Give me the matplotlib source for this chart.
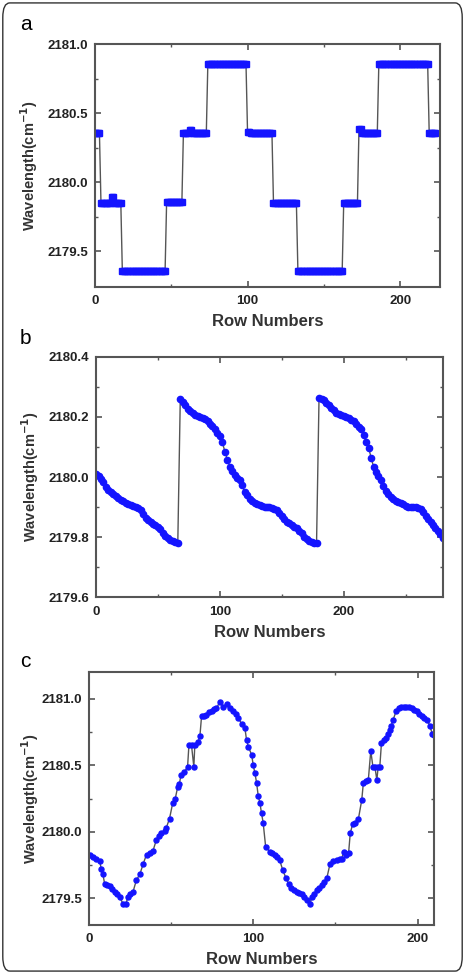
import numpy as np
import matplotlib.pyplot as plt
from matplotlib.patches import FancyBboxPatch

plt.rcParams['font.family'] = ['Liberation Sans', 'DejaVu Sans']

# panel a: step levels (cm-1) and how many rows each level lasts
a_levels = [2180.355, 2179.85, 2179.895, 2179.85, 2179.355, 2179.855, 2180.355,
            2180.375, 2180.355, 2180.855, 2180.365, 2180.355, 2179.85, 2179.355,
            2179.85, 2180.385, 2180.355, 2180.855, 2180.355]
a_rows = [4, 7, 2, 5, 29, 11, 4, 2, 10, 26, 2, 15, 16, 30, 10, 2, 11, 33, 5]

# panel b: every second row
b_rows = list(range(0, 281, 2))
b_vals = [2180.010, 2180.005, 2179.995, 2179.982, 2179.968, 2179.958, 2179.950, 2179.943,
          2179.936, 2179.929, 2179.924, 2179.919, 2179.914, 2179.910, 2179.907, 2179.905,
          2179.902, 2179.898, 2179.889, 2179.877, 2179.865, 2179.857, 2179.850, 2179.845,
          2179.839, 2179.834, 2179.826, 2179.815, 2179.805, 2179.796, 2179.790, 2179.786,
          2179.783, 2179.780,
          2180.258, 2180.250, 2180.238, 2180.228, 2180.220, 2180.212, 2180.206, 2180.202,
          2180.200, 2180.197, 2180.192, 2180.186, 2180.178, 2180.169, 2180.160, 2180.148,
          2180.138, 2180.115, 2180.085, 2180.058, 2180.035, 2180.020, 2180.008, 2179.998,
          2179.990, 2179.972, 2179.950, 2179.940, 2179.928, 2179.921, 2179.915, 2179.910,
          2179.906, 2179.903, 2179.901, 2179.900, 2179.899, 2179.897, 2179.895, 2179.890,
          2179.882, 2179.870, 2179.860, 2179.852, 2179.846, 2179.840, 2179.835, 2179.829,
          2179.822, 2179.813, 2179.802, 2179.794, 2179.788, 2179.784, 2179.781, 2179.780,
          2180.262, 2180.260, 2180.255, 2180.247, 2180.238, 2180.230, 2180.222, 2180.214,
          2180.209, 2180.205, 2180.202, 2180.200, 2180.196, 2180.191, 2180.185, 2180.177,
          2180.168, 2180.160, 2180.140, 2180.118, 2180.098, 2180.065, 2180.035, 2180.018,
          2180.005, 2179.990, 2179.970, 2179.955, 2179.943, 2179.934, 2179.927, 2179.921,
          2179.917, 2179.913, 2179.909, 2179.905, 2179.902, 2179.900, 2179.900, 2179.899,
          2179.898, 2179.893, 2179.884, 2179.872, 2179.860, 2179.850, 2179.840, 2179.830,
          2179.822, 2179.810, 2179.798]

# panel c
c_rows = [0.8, 2.5, 4.5, 6.5, 7.5, 8.5, 9.5, 11, 12.6, 14, 15.6, 17, 18.7, 20.7, 22.4,
          23.8, 25, 26.8, 28.9, 30.9, 33, 35, 37, 39, 41, 42.5, 44, 46, 47, 49, 51, 52.5,
          54, 55, 56, 58, 60, 60.8, 62.4, 63.8, 64.4, 66.5, 67.5, 68.5, 70, 71.5, 73, 74.6,
          76, 77.6, 79.7, 81.7, 83.7, 85.8, 87.8, 89.5, 90.9, 92.9, 94.9, 95.9, 97, 99,
          100, 101, 102, 103, 104, 105, 106, 107.5, 110, 111.5, 113, 114.5, 116, 118, 120,
          121.5, 123, 124.5, 126.4, 128, 129.5, 131, 132.5, 134.6, 135.6, 137, 138.6, 140,
          141.7, 143, 144.7, 146.7, 148.5, 150.8, 152.5, 153.9, 154.9, 156.5, 158, 159,
          160.5, 162, 164, 166, 167, 168.5, 170, 171.5, 172.8, 174, 175.2, 176, 177, 178,
          179.5, 181, 182, 183, 184, 185, 187, 188.5, 190, 191.5, 193, 194.5, 196.5, 198,
          199.6, 201, 202.6, 204, 205.7, 207.5, 208.8, 210]
c_vals = [2179.83, 2179.815, 2179.80, 2179.78, 2179.72, 2179.68, 2179.61, 2179.60, 2179.59,
          2179.57, 2179.55, 2179.53, 2179.51, 2179.46, 2179.46,
          2179.51, 2179.53, 2179.55, 2179.64, 2179.68, 2179.76, 2179.83, 2179.845, 2179.86,
          2179.94, 2179.97, 2179.995, 2180.01, 2180.03, 2180.10, 2180.22, 2180.25,
          2180.34, 2180.36, 2180.43, 2180.45, 2180.49, 2180.65, 2180.65, 2180.49, 2180.65,
          2180.68, 2180.72, 2180.87, 2180.875, 2180.88, 2180.90, 2180.91,
          2180.925, 2180.93, 2180.98, 2180.94, 2180.96, 2180.93, 2180.91, 2180.885, 2180.86,
          2180.81, 2180.78, 2180.69, 2180.64, 2180.58,
          2180.50, 2180.44, 2180.37, 2180.27, 2180.22, 2180.14, 2180.07, 2179.89, 2179.85,
          2179.84, 2179.83, 2179.815, 2179.79, 2179.71, 2179.65,
          2179.61, 2179.58, 2179.565, 2179.55, 2179.54, 2179.53, 2179.51, 2179.49, 2179.46,
          2179.51, 2179.535, 2179.56, 2179.58,
          2179.60, 2179.62, 2179.65, 2179.76, 2179.78, 2179.79, 2179.795, 2179.80, 2179.85,
          2179.83, 2179.84, 2179.99,
          2180.06, 2180.07, 2180.10, 2180.24, 2180.37, 2180.38, 2180.39, 2180.61, 2180.49,
          2180.49, 2180.39, 2180.49, 2180.49, 2180.67,
          2180.69, 2180.71, 2180.74, 2180.77, 2180.80, 2180.84, 2180.91, 2180.93, 2180.94,
          2180.94, 2180.94, 2180.94, 2180.93, 2180.92,
          2180.91, 2180.89, 2180.87, 2180.86, 2180.84, 2180.80, 2180.74, 2180.73]

fig = plt.figure(figsize=(4.65, 9.74), dpi=100)
fig.patches.append(FancyBboxPatch((0.006, 0.003), 0.988, 0.994, boxstyle='round,pad=0,rounding_size=0.015',
                                  transform=fig.transFigure, fill=False, edgecolor='#333333', linewidth=1.0))

blue = '#1414ff'
spine_col = '#555555'


def style(ax, xlim, ylim, xmaj, xmin, ymaj, ymin, yfmt, ypad=5):
    ax.set_xlim(*xlim)
    ax.set_ylim(*ylim)
    ax.set_xticks(xmaj)
    ax.set_xticks(xmin, minor=True)
    ax.set_yticks(ymaj)
    ax.set_yticks(ymin, minor=True)
    ax.set_yticklabels([yfmt.format(v) for v in ymaj])
    ax.set_xticklabels([str(v) for v in xmaj])
    for s in ax.spines.values():
        s.set_color(spine_col)
        s.set_linewidth(1.5)
    ax.tick_params(which='both', direction='in', top=True, right=True, color=spine_col)
    ax.tick_params(which='major', length=4, width=1.2, labelsize=9.5)
    ax.tick_params(axis='x', which='major', pad=6)
    ax.tick_params(axis='y', which='major', pad=5)
    ax.tick_params(which='minor', length=2.5, width=1.0)
    for lab in ax.get_xticklabels() + ax.get_yticklabels():
        lab.set_fontweight('bold')
        lab.set_color('#222222')
    ax.set_xlabel('Row Numbers', fontsize=12, fontweight='bold', color='#333333', labelpad=5)
    ax.set_ylabel('Wavelength(cm$^{\\mathbf{-1}}$)', fontsize=10.5, fontweight='bold', color='#333333', labelpad=ypad)


# panel a
ax1 = fig.add_axes([0.204, 0.7053, 0.742, 0.2495])
a_y = np.repeat(a_levels, a_rows)
a_x = np.arange(len(a_y))
ax1.plot(a_x, a_y, color='#555555', lw=1.0, zorder=1)
ax1.plot(a_x, a_y, ls='none', marker='s', ms=5, color=blue, mec=blue, zorder=2)
style(ax1, (0, 226), (2179.24, 2181.0), [0, 100, 200], [50, 150],
      [2179.5, 2180.0, 2180.5, 2181.0], [2179.75, 2180.25, 2180.75], '{:.1f}')

# panel b
ax2 = fig.add_axes([0.2065, 0.3867, 0.746, 0.247])
ax2.plot(b_rows, b_vals, color='#555555', lw=1.0, zorder=1)
ax2.plot(b_rows, b_vals, ls='none', marker='o', ms=4.5, color=blue, mec=blue, zorder=2)
style(ax2, (0, 280), (2179.6, 2180.4), [0, 100, 200], [50, 150, 250],
      [2179.6, 2179.8, 2180.0, 2180.2, 2180.4], [2179.7, 2179.9, 2180.1, 2180.3], '{:.1f}')

# panel c
ax3 = fig.add_axes([0.1914, 0.0503, 0.742, 0.2594])
ax3.plot(c_rows, c_vals, color='#555555', lw=1.0, zorder=1)
ax3.plot(c_rows, c_vals, ls='none', marker='o', ms=3.6, color=blue, mec=blue, zorder=2)
style(ax3, (0, 210), (2179.3, 2181.2), [0, 100, 200], [50, 150],
      [2179.5, 2180.0, 2180.5, 2181.0], [2179.75, 2180.25, 2180.75], '{:.1f}', ypad=0)

fig.text(0.043, 0.975, 'a', fontsize=15, va='center', ha='left')
fig.text(0.043, 0.652, 'b', fontsize=15, va='center', ha='left')
fig.text(0.043, 0.321, 'c', fontsize=15, va='center', ha='left')

fig.savefig('out.png', dpi=100)
